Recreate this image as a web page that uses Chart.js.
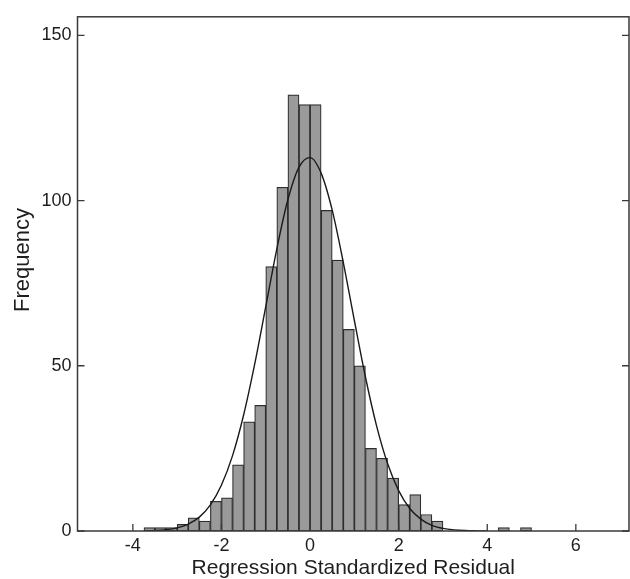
<!DOCTYPE html>
<html>
<head>
<meta charset="utf-8">
<script src="https://cdn.jsdelivr.net/npm/chart.js@4/dist/chart.umd.min.js"></script>
<style>
  html, body { margin: 0; padding: 0; background: #fff; }
  #wrap { width: 630px; height: 579px; }
</style>
</head>
<body>
<div id="wrap"><canvas id="chart" width="630" height="579"></canvas></div>
<script>
// histogram bins (left edge, width 0.25) and counts
const binStarts = [-3.75, -3.5, -3.25, -3.0, -2.75, -2.5, -2.25, -2.0, -1.75, -1.5, -1.25, -1.0, -0.75, -0.5, -0.25,
  0.0, 0.25, 0.5, 0.75, 1.0, 1.25, 1.5, 1.75, 2.0, 2.25, 2.5, 2.75, 4.25, 4.75];
const binCounts = [1, 1, 1, 2, 4, 3, 9, 10, 20, 33, 38, 80, 104, 132, 129,
  129, 97, 82, 61, 50, 25, 22, 16, 8, 11, 5, 3, 1, 1];
const binWidth = 0.25;

// fitted normal curve
const curveX = [-3.75, -3.5, -3.25, -3.0, -2.75, -2.5, -2.25, -2.0, -1.75, -1.5, -1.25, -1.0, -0.75, -0.5, -0.25,
  0.0, 0.25, 0.5, 0.75, 1.0, 1.25, 1.5, 1.75, 2.0, 2.25, 2.5, 2.75, 3.0, 3.25, 3.5, 3.75, 4.0];
const curveY = [0.06, 0.17, 0.42, 0.96, 2.1, 4.2, 7.9, 13.9, 22.8, 35.1, 50.5, 67.9, 85.4, 100.3, 110.1,
  113.0, 108.3, 97.1, 81.3, 63.7, 46.6, 31.9, 20.4, 12.2, 6.8, 3.6, 1.7, 0.8, 0.34, 0.13, 0.05, 0.02];

const xTicks = [-4, -2, 0, 2, 4, 6];
const yTicks = [0, 50, 100, 150];

const textColor = '#1e1e1e';
const frameColor = '#3a3a3a';
const fontFamily = 'Liberation Sans, Arial, sans-serif';

// frame, inward tick marks and the y title
const framePlugin = {
  id: 'frame',
  afterDraw(chart) {
    const { ctx, chartArea: a, scales } = chart;
    ctx.save();
    ctx.strokeStyle = frameColor;
    ctx.lineWidth = 1.5;
    ctx.strokeRect(a.left, a.top, a.right - a.left, a.bottom - a.top);
    ctx.lineWidth = 1.3;
    ctx.beginPath();
    yTicks.forEach(v => {
      const y = scales.y.getPixelForValue(v);
      ctx.moveTo(a.left, y); ctx.lineTo(a.left + 7, y);
      ctx.moveTo(a.right, y); ctx.lineTo(a.right - 7, y);
    });
    xTicks.forEach(v => {
      const x = scales.x.getPixelForValue(v);
      ctx.moveTo(x, a.bottom); ctx.lineTo(x, a.bottom - 7);
    });
    ctx.stroke();

    // y axis title, sits a little above the middle like the original
    ctx.translate(23, scales.y.getPixelForValue(82));
    ctx.rotate(-Math.PI / 2);
    ctx.fillStyle = textColor;
    ctx.font = '22px ' + fontFamily;
    ctx.textAlign = 'center';
    ctx.textBaseline = 'middle';
    ctx.fillText('Frequency', 0, 0);
    ctx.restore();
  }
};

const ctx = document.getElementById('chart').getContext('2d');
new Chart(ctx, {
  data: {
    datasets: [
      {
        type: 'line',
        data: curveX.map((x, i) => ({ x, y: curveY[i] })),
        borderColor: '#1a1a1a',
        borderWidth: 1.4,
        pointRadius: 0,
        cubicInterpolationMode: 'monotone',
        fill: false,
        order: 0,
      },
      {
        type: 'bar',
        data: binStarts.map((s, i) => ({ x: s + binWidth / 2, y: binCounts[i] })),
        backgroundColor: '#9a9a9a',
        borderColor: '#2e2e2e',
        borderWidth: 1.2,
        borderSkipped: false,
        barPercentage: 1,
        categoryPercentage: 1,
        order: 1,
      },
    ],
  },
  options: {
    responsive: false,
    animation: false,
    events: [],
    layout: { padding: { top: 13, right: 1, left: 0, bottom: 0 } },
    plugins: { legend: { display: false }, tooltip: { enabled: false } },
    scales: {
      x: {
        type: 'linear',
        offset: false,
        min: -5.25,
        max: 7.2,
        grid: { display: false, drawTicks: false, offset: false },
        border: { display: false },
        afterBuildTicks: s => { s.ticks = xTicks.map(v => ({ value: v })); },
        afterFit: s => { s.height = 48; },
        ticks: {
          padding: 4,
          color: textColor,
          font: { family: fontFamily, size: 18 },
          maxRotation: 0,
        },
        title: {
          display: true,
          text: 'Regression Standardized Residual',
          color: textColor,
          font: { family: fontFamily, size: 21 },
          padding: { top: 0, bottom: -2 },
        },
      },
      y: {
        min: 0,
        max: 155.6,
        grid: { display: false, drawTicks: false },
        border: { display: false },
        afterBuildTicks: s => { s.ticks = yTicks.map(v => ({ value: v })); },
        afterFit: s => { s.width = 77.5; },
        ticks: {
          padding: 6,
          color: textColor,
          font: { family: fontFamily, size: 18 },
        },
        title: { display: false },
      },
    },
  },
  plugins: [framePlugin],
});
</script>
</body>
</html>
